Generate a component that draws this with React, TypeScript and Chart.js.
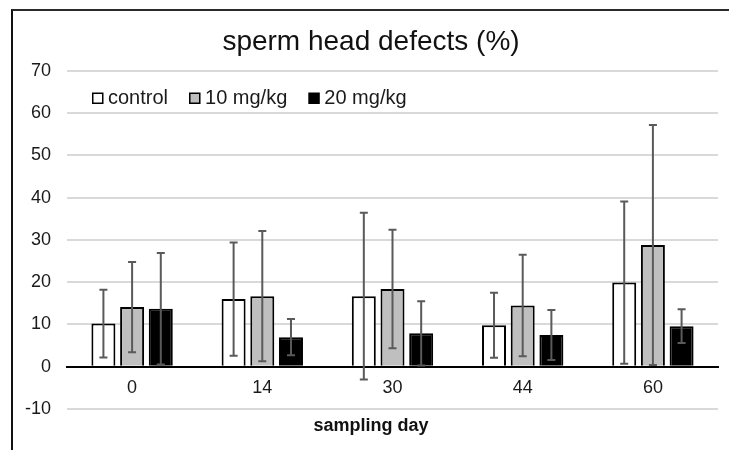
import React, { useEffect, useRef } from "react";
import { Chart, registerables } from "chart.js";

Chart.register(...registerables);

const categories = ["0", "14", "30", "44", "60"];
const seriesNames = ["control", "10 mg/kg", "20 mg/kg"];
const controlValues = [10.2, 16.0, 16.7, 9.8, 19.9];
const controlErrors = [8.0, 13.4, 19.7, 7.7, 19.2];
const mg10Values = [14.1, 16.7, 18.4, 14.5, 28.8];
const mg10Errors = [10.7, 15.4, 14.0, 12.0, 28.4];
const mg20Values = [13.7, 7.0, 7.9, 7.5, 9.6];
const mg20Errors = [13.2, 4.3, 7.6, 5.9, 4.0];
const yTicksMin = -10;
const yTicksMax = 70;
const yTickStep = 10;

const FONT = "'Liberation Sans', Arial, sans-serif";
const TEXT = "#1a1a1a";

const errorBarsPlugin = {
  id: "errorBars",
  afterDatasetsDraw(chart: any) {
    const { ctx } = chart;
    const yScale = chart.scales.y;
    chart.data.datasets.forEach((ds: any, di: number) => {
      const meta = chart.getDatasetMeta(di);
      const errs: number[] = ds.errors || [];
      meta.data.forEach((bar: any, i: number) => {
        const v = ds.data[i];
        const e = errs[i];
        if (v == null || e == null) return;
        const x = bar.x;
        const yt = yScale.getPixelForValue(v + e);
        const yb = yScale.getPixelForValue(v - e);
        ctx.save();
        ctx.strokeStyle = "#5a5a5a";
        ctx.lineWidth = 2;
        ctx.beginPath();
        ctx.moveTo(x, yt);
        ctx.lineTo(x, yb);
        ctx.moveTo(x - 4, yt);
        ctx.lineTo(x + 4, yt);
        ctx.moveTo(x - 4, yb);
        ctx.lineTo(x + 4, yb);
        ctx.stroke();
        ctx.restore();
      });
    });
  },
};

// Place the legend inside the plot area (below the top gridline) without reserving layout space
const legendInsidePlugin = {
  id: "legendInside",
  afterLayout(chart: any) {
    const lg = chart.legend;
    if (!lg) return;
    lg.left = 71;
    lg.right = chart.width;
    lg.width = lg.right - lg.left;
    lg.top = 61.8;
    lg.bottom = 130;
    lg.height = lg.bottom - lg.top;
  },
};

export default function App() {
  const canvasRef = useRef<HTMLCanvasElement | null>(null);

  useEffect(() => {
    if (!canvasRef.current) return;
    const baseGen = (Chart as any).defaults.plugins.legend.labels.generateLabels;
    const chart = new Chart(canvasRef.current, {
      type: "bar",
      data: {
        labels: categories,
        datasets: [
          {
            label: seriesNames[0],
            data: controlValues,
            errors: controlErrors,
            backgroundColor: "#ffffff",
            borderColor: "#000000",
            borderWidth: 2,
          } as any,
          {
            label: seriesNames[1],
            data: mg10Values,
            errors: mg10Errors,
            backgroundColor: "#bfbfbf",
            borderColor: "#000000",
            borderWidth: 2,
          } as any,
          {
            label: seriesNames[2],
            data: mg20Values,
            errors: mg20Errors,
            backgroundColor: "#000000",
            borderColor: "#000000",
            borderWidth: 2,
          } as any,
        ],
      },
      options: {
        responsive: false,
        animation: false,
        events: [],
        layout: { padding: { left: 24, right: 11, top: 0, bottom: 12.7 } },
        datasets: {
          bar: { categoryPercentage: 0.661, barPercentage: 0.836 },
        },
        scales: {
          x: {
            position: { y: 0 } as any,
            offset: true,
            grid: { display: false, drawTicks: false },
            border: { display: true, color: "#000000", width: 2 },
            ticks: {
              padding: 11,
              color: TEXT,
              font: { family: FONT, size: 18 },
            },
          },
          y: {
            min: yTicksMin,
            max: yTicksMax,
            afterFit: (scale: any) => {
              scale.width = 43;
            },
            grid: {
              drawTicks: false,
              color: (c: any) => (c.tick && c.tick.value === 0 ? "#000000" : "#d9d9d9"),
              lineWidth: 2,
            },
            border: { display: false },
            ticks: {
              stepSize: yTickStep,
              padding: 16,
              color: TEXT,
              font: { family: FONT, size: 18 },
            },
          },
        },
        plugins: {
          tooltip: { enabled: false },
          title: {
            display: true,
            text: "sperm head defects (%)",
            color: "#111111",
            font: { family: FONT, size: 28, weight: "normal" },
            padding: { top: 25, bottom: 12.2 },
          },
          subtitle: {
            display: true,
            text: "sampling day",
            position: "bottom",
            color: "#111111",
            font: { family: FONT, size: 18, weight: "bold" },
            padding: { top: 6.7, bottom: 0 },
          },
          legend: {
            display: true,
            position: "top",
            align: "start",
            maxHeight: 0.01,
            labels: {
              usePointStyle: true,
              pointStyle: "rect",
              boxWidth: 0.5,
              boxHeight: 10,
              padding: 26.5,
              color: TEXT,
              font: { family: FONT, size: 20 },
              generateLabels: (ch: any) =>
                baseGen(ch).map((l: any) => ({ ...l, lineWidth: 1.5, pointStyle: "rect" })),
            },
          } as any,
        },
      } as any,
      plugins: [errorBarsPlugin, legendInsidePlugin],
    });
    return () => chart.destroy();
  }, []);

  return (
    <div style={{ position: "fixed", left: 0, top: 0, width: 729, height: 450, background: "#ffffff", overflow: "hidden" }}>
      <canvas ref={canvasRef} width={729} height={450} style={{ position: "absolute", left: 0, top: 0, width: 729, height: 450 }} />
      <div
        style={{
          position: "absolute",
          left: 11,
          top: 9,
          width: 730,
          height: 460,
          borderLeft: "2px solid #111111",
          borderTop: "2px solid #2a2a2a",
          pointerEvents: "none",
        }}
      />
    </div>
  );
}
